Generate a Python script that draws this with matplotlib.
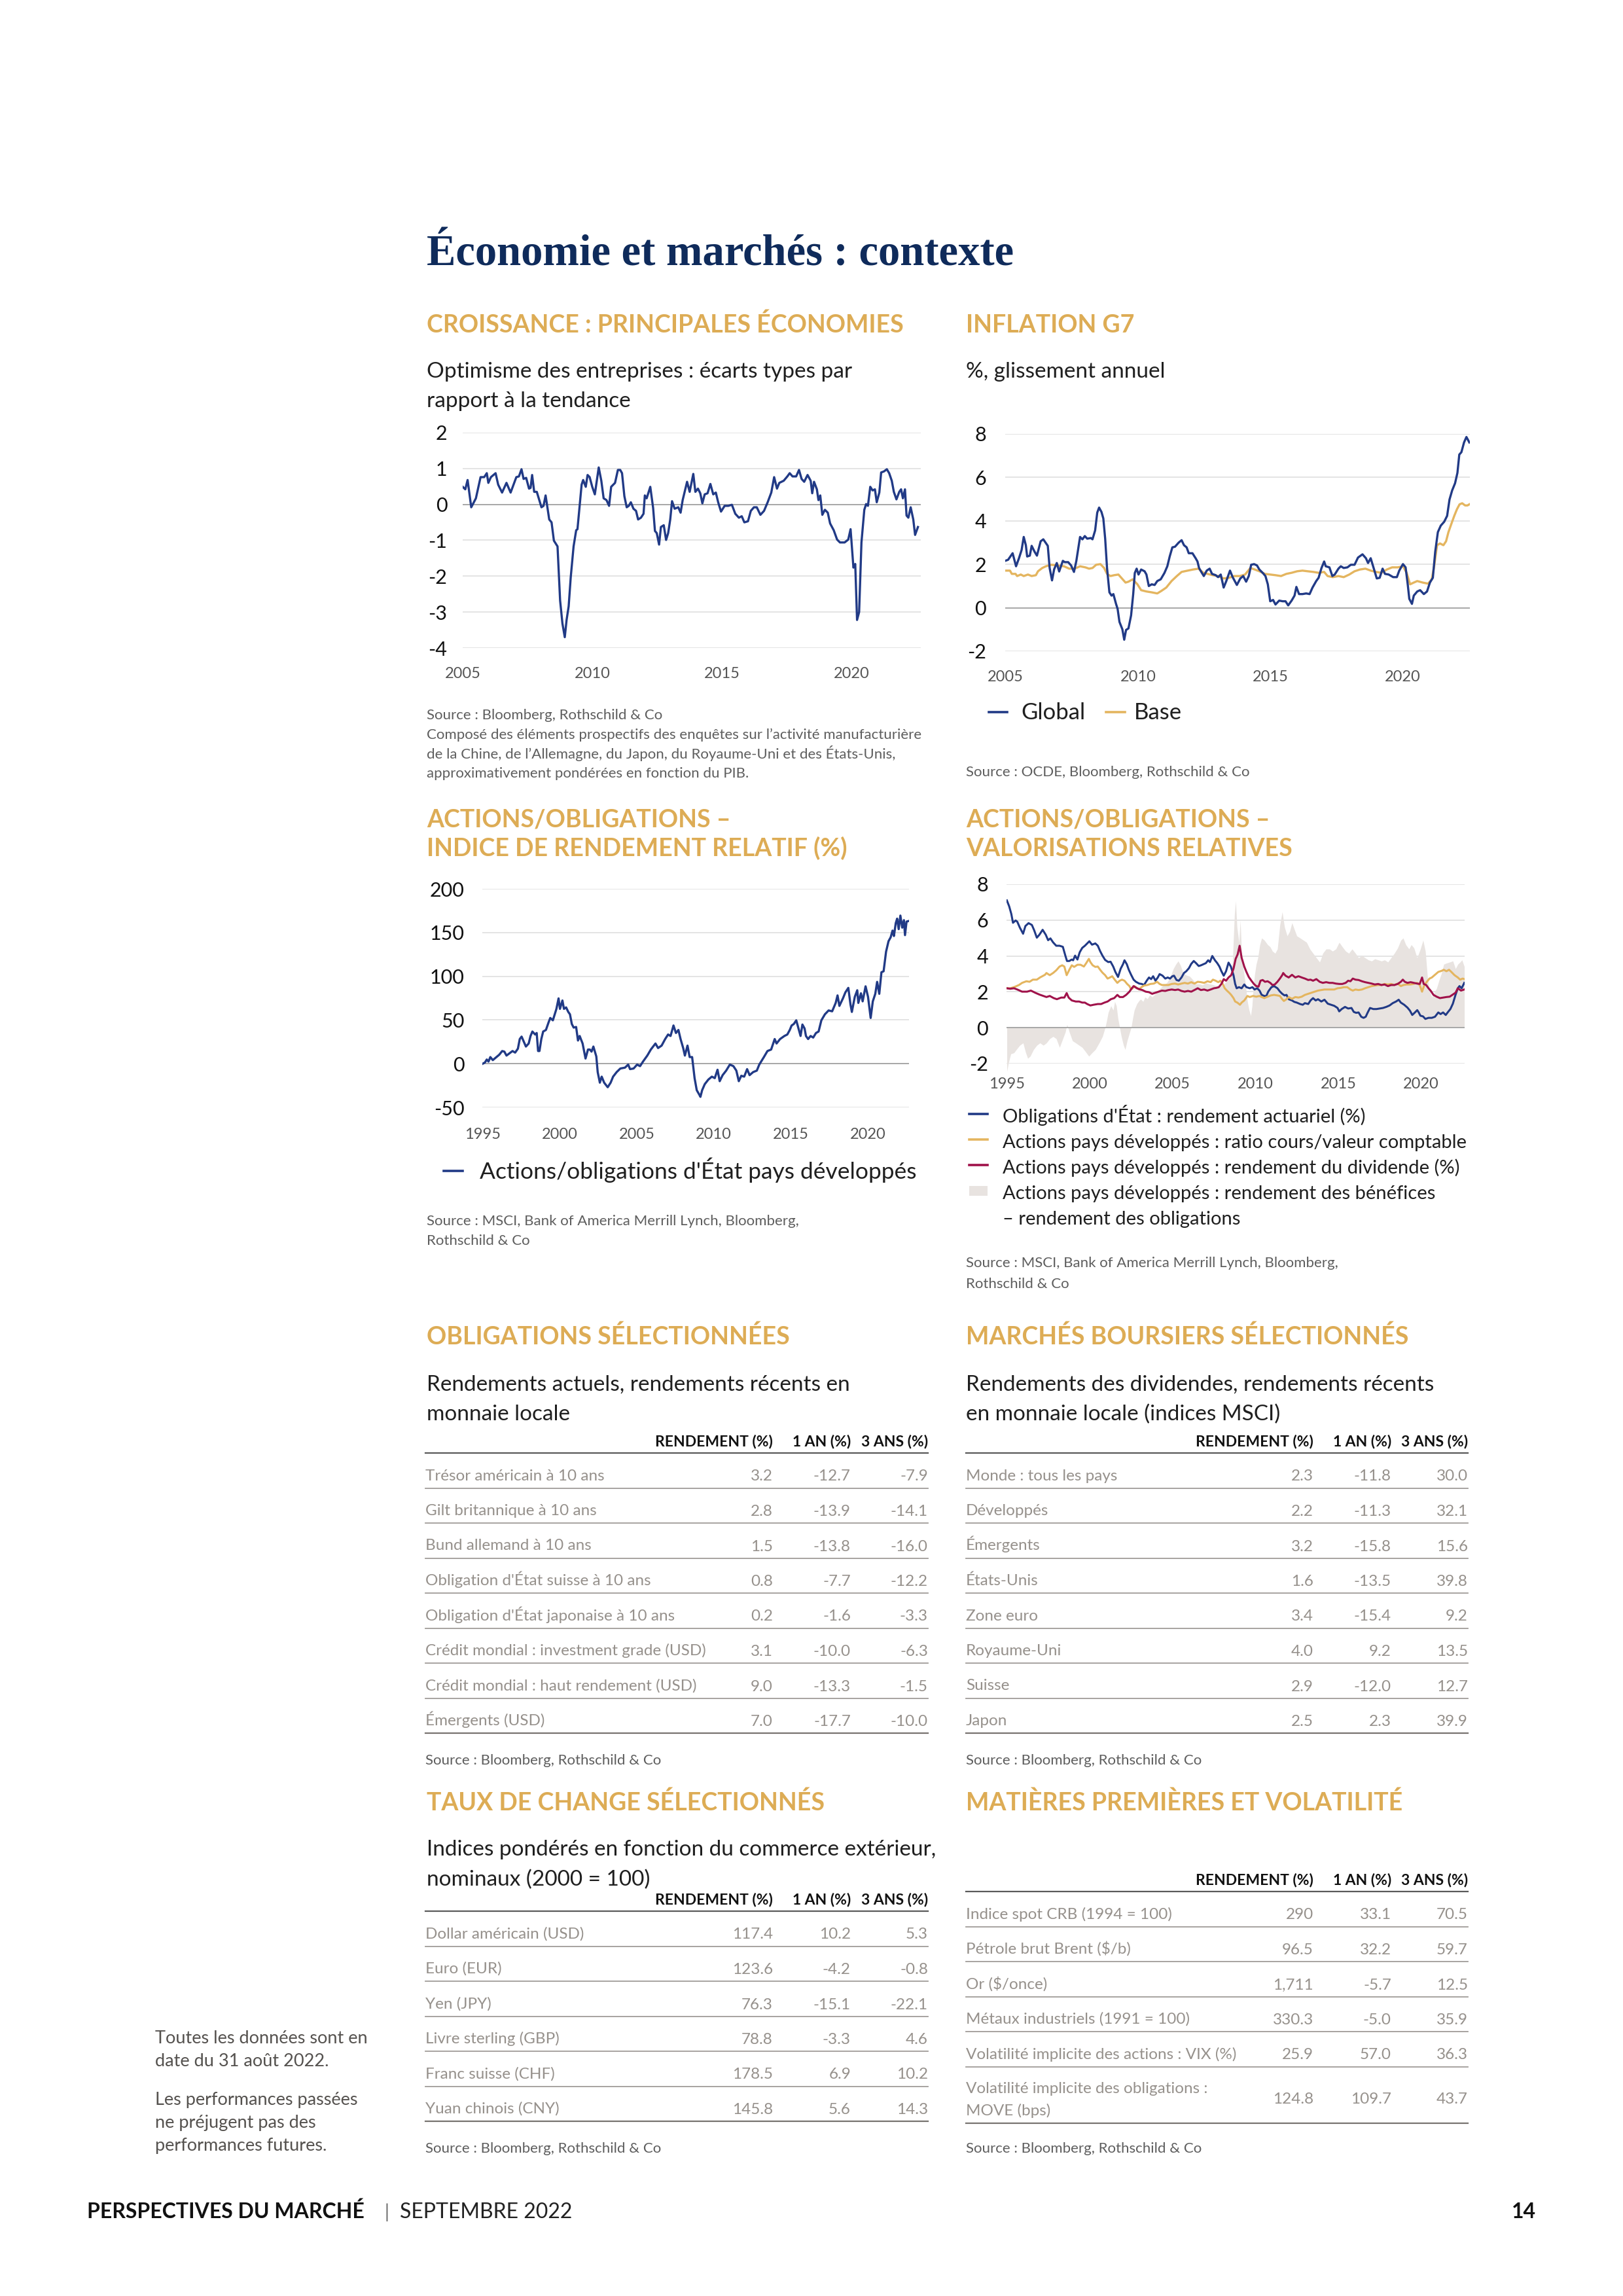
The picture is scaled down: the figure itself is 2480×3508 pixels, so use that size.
import matplotlib
matplotlib.use("Agg")
import matplotlib.pyplot as plt
from matplotlib.patches import Rectangle

plt.rcParams["font.family"] = ["Lato", "DejaVu Sans"]
plt.rcParams["axes.unicode_minus"] = False

# ---------------------------------------------------------------- chart data
# Croissance : optimisme des entreprises (ecarts types)
growth_t = [
    2005.00, 2005.10, 2005.19, 2005.33, 2005.51, 2005.69, 2005.83, 2005.93, 2005.99, 2006.09,
    2006.27, 2006.37, 2006.52, 2006.69, 2006.85, 2007.07, 2007.17, 2007.27, 2007.35, 2007.45,
    2007.56, 2007.62, 2007.68, 2007.76, 2007.86, 2008.04, 2008.12, 2008.20, 2008.34, 2008.43,
    2008.52, 2008.66, 2008.76, 2008.85, 2008.94, 2009.01, 2009.09, 2009.17, 2009.28, 2009.38,
    2009.43, 2009.52, 2009.59, 2009.65, 2009.75, 2009.82, 2009.90, 2010.00, 2010.10, 2010.25,
    2010.35, 2010.44, 2010.55, 2010.65, 2010.73, 2010.88, 2010.99, 2011.08, 2011.15, 2011.24,
    2011.33, 2011.41, 2011.49, 2011.59, 2011.69, 2011.77, 2011.88, 2011.98, 2012.03, 2012.10,
    2012.24, 2012.35, 2012.42, 2012.49, 2012.58, 2012.65, 2012.76, 2012.85, 2012.93, 2013.01,
    2013.08, 2013.18, 2013.32, 2013.41, 2013.49, 2013.66, 2013.76, 2013.90, 2013.98, 2014.08,
    2014.17, 2014.25, 2014.34, 2014.45, 2014.56, 2014.67, 2014.77, 2014.86, 2014.97, 2015.11,
    2015.25, 2015.39, 2015.52, 2015.66, 2015.77, 2015.87, 2016.01, 2016.12, 2016.24, 2016.35,
    2016.49, 2016.63, 2016.77, 2016.91, 2017.02, 2017.13, 2017.22, 2017.39, 2017.53, 2017.62,
    2017.73, 2017.87, 2017.98, 2018.08, 2018.18, 2018.31, 2018.43, 2018.49, 2018.56, 2018.67,
    2018.73, 2018.80, 2018.88, 2018.98, 2019.09, 2019.18, 2019.32, 2019.45, 2019.56, 2019.74,
    2019.88, 2019.97, 2020.08, 2020.15, 2020.22, 2020.30, 2020.39, 2020.50, 2020.57, 2020.64,
    2020.73, 2020.82, 2020.91, 2020.98, 2021.08, 2021.15, 2021.26, 2021.37, 2021.46, 2021.56,
    2021.64, 2021.74, 2021.85, 2021.92, 2021.99, 2022.07, 2022.13, 2022.20, 2022.29, 2022.39,
    2022.46, 2022.57,
]
growth_v = [
    0.49, 0.42, 0.68, -0.08, 0.17, 0.76, 0.76, 0.87, 0.60, 0.76,
    0.87, 0.55, 0.33, 0.60, 0.33, 0.76, 0.78, 0.98, 0.71, 0.74,
    0.44, 0.46, 0.82, 0.35, 0.35, -0.08, -0.04, 0.25, -0.42, -0.50,
    -1.01, -1.17, -2.68, -3.32, -3.70, -3.22, -2.84, -2.03, -1.17, -0.72,
    -0.69, 0.01, 0.55, 0.68, 0.49, 0.82, 0.76, 0.49, 0.28, 1.03,
    0.66, 0.17, 0.12, -0.04, 0.49, 0.60, 0.96, 0.96, 0.87, 0.23,
    -0.08, -0.04, 0.06, -0.12, -0.18, -0.42, -0.37, -0.26, 0.25, 0.17,
    0.49, -0.10, -0.74, -0.80, -1.12, -0.63, -0.58, -0.99, -0.80, -0.42,
    0.09, -0.12, -0.08, -0.23, 0.12, 0.63, 0.35, 0.85, 0.35, 0.44,
    0.31, 0.03, 0.28, 0.31, 0.57, 0.28, 0.33, 0.06, -0.20, -0.04,
    -0.04, -0.01, -0.26, -0.37, -0.33, -0.50, -0.47, -0.18, -0.08, -0.08,
    -0.29, -0.18, 0.06, 0.33, 0.76, 0.44, 0.60, 0.66, 0.78, 0.87,
    0.78, 0.78, 0.96, 0.71, 0.63, 0.82, 0.66, 0.31, 0.63, 0.42,
    0.12, 0.25, -0.29, -0.15, -0.23, -0.53, -0.72, -0.98, -1.06, -1.06,
    -0.98, -0.69, -1.76, -1.66, -3.22, -3.00, -1.06, -0.15, 0.01, -0.04,
    0.49, 0.39, 0.42, 0.06, 0.33, 0.89, 0.92, 0.98, 0.87, 0.66,
    0.35, 0.14, 0.35, 0.42, 0.17, 0.42, -0.31, -0.37, -0.08, -0.42,
    -0.85, -0.63,
]

# Inflation G7 (%, glissement annuel)
infl_global_t = [
    2004.98, 2005.09, 2005.26, 2005.39, 2005.50, 2005.60, 2005.68, 2005.76, 2005.81, 2005.91,
    2005.98, 2006.09, 2006.18, 2006.32, 2006.42, 2006.59, 2006.66, 2006.75, 2006.83, 2006.93,
    2007.02, 2007.16, 2007.23, 2007.36, 2007.47, 2007.58, 2007.67, 2007.81, 2007.90, 2007.99,
    2008.08, 2008.22, 2008.28, 2008.38, 2008.46, 2008.53, 2008.62, 2008.69, 2008.76, 2008.83,
    2008.92, 2009.00, 2009.07, 2009.17, 2009.23, 2009.30, 2009.41, 2009.48, 2009.55, 2009.64,
    2009.74, 2009.82, 2009.88, 2009.95, 2010.02, 2010.12, 2010.25, 2010.32, 2010.41, 2010.52,
    2010.63, 2010.73, 2010.86, 2011.00, 2011.11, 2011.20, 2011.30, 2011.40, 2011.54, 2011.65,
    2011.74, 2011.84, 2011.92, 2012.06, 2012.18, 2012.25, 2012.31, 2012.38, 2012.49, 2012.60,
    2012.71, 2012.80, 2012.94, 2013.03, 2013.13, 2013.24, 2013.34, 2013.48, 2013.58, 2013.74,
    2013.87, 2013.98, 2014.09, 2014.19, 2014.28, 2014.39, 2014.50, 2014.59, 2014.73, 2014.82,
    2014.91, 2015.00, 2015.11, 2015.20, 2015.34, 2015.47, 2015.58, 2015.68, 2015.81, 2015.92,
    2015.99, 2016.09, 2016.22, 2016.36, 2016.49, 2016.60, 2016.74, 2016.83, 2016.94, 2017.04,
    2017.10, 2017.24, 2017.35, 2017.44, 2017.58, 2017.67, 2017.78, 2017.92, 2018.05, 2018.19,
    2018.32, 2018.49, 2018.62, 2018.70, 2018.80, 2018.93, 2019.03, 2019.14, 2019.25, 2019.34,
    2019.48, 2019.65, 2019.79, 2019.88, 2020.02, 2020.12, 2020.20, 2020.26, 2020.36, 2020.43,
    2020.56, 2020.67, 2020.81, 2020.93, 2021.04, 2021.15, 2021.24, 2021.34, 2021.45, 2021.58,
    2021.69, 2021.78, 2021.88, 2021.99, 2022.08, 2022.15, 2022.23, 2022.33, 2022.42, 2022.53,
]
infl_global_v = [
    2.16, 2.21, 2.51, 1.91, 2.28, 2.66, 3.26, 2.88, 2.36, 2.40,
    2.85, 2.58, 2.40, 3.06, 3.15, 2.85, 1.83, 1.26, 1.77, 2.06,
    1.67, 2.16, 2.10, 2.10, 1.95, 1.65, 2.16, 3.26, 3.15, 3.30,
    3.18, 3.21, 3.15, 3.56, 4.38, 4.61, 4.41, 4.11, 3.18, 1.83,
    0.71, 0.56, 0.63, 0.18, -0.05, -0.65, -0.99, -1.47, -1.02, -0.95,
    -0.35, 0.63, 1.60, 1.80, 1.53, 1.76, 1.68, 1.53, 1.00, 1.08,
    1.05, 1.23, 1.31, 1.60, 1.91, 2.36, 2.78, 2.81, 3.00, 3.11,
    2.88, 2.78, 2.51, 2.51, 2.28, 2.13, 1.83, 1.68, 1.46, 1.71,
    1.80, 1.56, 1.50, 1.41, 1.53, 0.93, 1.23, 1.71, 1.41, 1.05,
    1.35, 1.46, 1.20, 1.46, 1.98, 2.01, 1.95, 1.76, 1.59, 1.46,
    1.08, 0.30, 0.36, 0.15, 0.33, 0.30, 0.30, 0.11, 0.33, 0.56,
    0.96, 0.63, 0.63, 0.66, 0.63, 0.93, 1.23, 1.38, 1.83, 2.13,
    1.91, 1.86, 1.46, 1.53, 1.80, 1.91, 1.83, 1.86, 1.98, 1.98,
    2.31, 2.46, 2.28, 2.06, 2.28, 1.76, 1.35, 1.38, 1.80, 1.56,
    1.53, 1.41, 1.41, 1.71, 2.01, 1.86, 1.08, 0.41, 0.18, 0.56,
    0.75, 0.81, 0.63, 0.75, 1.16, 1.38, 2.58, 3.48, 3.78, 3.96,
    4.23, 4.98, 5.40, 5.73, 6.21, 7.05, 7.16, 7.61, 7.86, 7.61,
]
infl_base_t = [
    2004.98, 2005.16, 2005.23, 2005.37, 2005.43, 2005.57, 2005.68, 2005.84, 2005.98, 2006.14,
    2006.22, 2006.38, 2006.52, 2006.72, 2006.93, 2007.20, 2007.40, 2007.61, 2007.81, 2008.01,
    2008.15, 2008.28, 2008.42, 2008.58, 2008.72, 2008.83, 2008.96, 2009.10, 2009.26, 2009.37,
    2009.53, 2009.64, 2009.80, 2009.98, 2010.12, 2010.32, 2010.52, 2010.73, 2010.89, 2011.07,
    2011.27, 2011.47, 2011.65, 2011.88, 2012.08, 2012.29, 2012.46, 2012.63, 2012.83, 2013.03,
    2013.24, 2013.44, 2013.64, 2013.85, 2014.05, 2014.25, 2014.42, 2014.59, 2014.80, 2015.00,
    2015.20, 2015.41, 2015.61, 2015.81, 2016.02, 2016.22, 2016.42, 2016.63, 2016.83, 2017.04,
    2017.17, 2017.37, 2017.58, 2017.78, 2017.99, 2018.19, 2018.39, 2018.60, 2018.80, 2019.00,
    2019.21, 2019.41, 2019.61, 2019.82, 2020.02, 2020.16, 2020.29, 2020.43, 2020.56, 2020.77,
    2020.97, 2021.11, 2021.20, 2021.31, 2021.42, 2021.55, 2021.65, 2021.74, 2021.85, 2021.96,
    2022.06, 2022.16, 2022.26, 2022.37, 2022.46, 2022.53,
]
infl_base_v = [
    1.71, 1.71, 1.56, 1.56, 1.46, 1.53, 1.46, 1.53, 1.46, 1.50,
    1.68, 1.83, 1.91, 1.98, 1.95, 1.91, 1.80, 1.80, 1.91, 1.86,
    1.80, 1.83, 1.98, 2.01, 1.83, 1.56, 1.46, 1.50, 1.53, 1.38,
    1.16, 1.20, 1.31, 1.08, 0.81, 0.75, 0.71, 0.66, 0.78, 0.93,
    1.23, 1.46, 1.65, 1.71, 1.76, 1.80, 1.62, 1.56, 1.50, 1.46,
    1.35, 1.38, 1.46, 1.46, 1.53, 1.83, 1.76, 1.68, 1.56, 1.53,
    1.50, 1.46, 1.56, 1.61, 1.68, 1.71, 1.68, 1.65, 1.61, 1.65,
    1.46, 1.41, 1.46, 1.41, 1.53, 1.68, 1.76, 1.80, 1.71, 1.65,
    1.61, 1.76, 1.86, 1.86, 1.91, 1.61, 1.08, 1.16, 1.23, 1.16,
    1.11, 1.31, 1.91, 2.88, 2.96, 2.88, 3.06, 3.48, 3.86, 4.23,
    4.53, 4.76, 4.81, 4.71, 4.71, 4.76,
]

# Actions/obligations : indice de rendement relatif (%)
relative_t = [
    1995.00, 1995.14, 1995.26, 1995.37, 1995.49, 1995.65, 1995.84, 1996.07, 1996.26, 1996.40,
    1996.54, 1996.72, 1996.93, 1997.10, 1997.28, 1997.40, 1997.52, 1997.63, 1997.80, 1997.98,
    1998.10, 1998.22, 1998.40, 1998.50, 1998.59, 1998.68, 1998.80, 1998.92, 1999.10, 1999.27,
    1999.38, 1999.55, 1999.66, 1999.78, 1999.92, 2000.01, 2000.17, 2000.27, 2000.41, 2000.55,
    2000.66, 2000.78, 2000.90, 2001.06, 2001.18, 2001.29, 2001.48, 2001.67, 2001.83, 2001.95,
    2002.06, 2002.18, 2002.37, 2002.46, 2002.60, 2002.72, 2002.88, 2003.11, 2003.30, 2003.46,
    2003.69, 2003.93, 2004.23, 2004.44, 2004.56, 2004.79, 2005.02, 2005.21, 2005.40, 2005.68,
    2005.91, 2006.21, 2006.38, 2006.61, 2006.84, 2007.03, 2007.19, 2007.38, 2007.54, 2007.70,
    2007.84, 2008.01, 2008.12, 2008.29, 2008.43, 2008.59, 2008.75, 2008.89, 2009.06, 2009.13,
    2009.24, 2009.41, 2009.64, 2009.87, 2010.06, 2010.24, 2010.38, 2010.57, 2010.80, 2011.04,
    2011.27, 2011.46, 2011.62, 2011.78, 2011.97, 2012.16, 2012.32, 2012.55, 2012.79, 2012.95,
    2013.25, 2013.48, 2013.72, 2013.95, 2014.07, 2014.30, 2014.58, 2014.77, 2014.93, 2015.05,
    2015.19, 2015.35, 2015.47, 2015.63, 2015.75, 2015.89, 2015.98, 2016.12, 2016.28, 2016.45,
    2016.63, 2016.80, 2016.98, 2017.21, 2017.45, 2017.68, 2017.91, 2018.03, 2018.15, 2018.38,
    2018.54, 2018.73, 2018.87, 2018.96, 2019.15, 2019.31, 2019.38, 2019.55, 2019.66, 2019.85,
    2020.01, 2020.18, 2020.32, 2020.48, 2020.60, 2020.74, 2020.88, 2021.02, 2021.18, 2021.34,
    2021.48, 2021.60, 2021.69, 2021.81, 2021.90, 2022.00, 2022.11, 2022.23, 2022.34, 2022.41,
    2022.51, 2022.65,
]
relative_v = [
    0.0, 1.4, 4.8, 2.4, 7.6, 4.1, 6.9, 10.3, 14.5, 13.8,
    9.3, 11.7, 14.5, 12.7, 17.2, 28.2, 31.0, 26.5, 19.6, 23.1,
    31.7, 36.8, 33.4, 35.1, 14.5, 14.5, 28.2, 36.8, 38.6, 47.2,
    52.3, 49.6, 55.8, 62.7, 74.7, 62.7, 72.3, 62.7, 64.4, 59.2,
    56.5, 45.4, 41.3, 42.0, 26.5, 31.7, 23.1, 5.9, 16.2, 16.2,
    13.8, 19.6, 8.3, -9.6, -21.7, -14.8, -21.7, -26.9, -21.7, -14.8,
    -9.6, -5.5, -4.5, -1.0, -6.2, -5.5, -1.0, -2.8, 2.4, 9.3,
    16.2, 23.1, 17.9, 20.7, 28.2, 33.4, 31.7, 43.7, 35.1, 38.6,
    28.2, 17.9, 9.3, 20.7, 7.6, 7.6, -16.5, -30.3, -35.5, -37.9,
    -30.3, -23.4, -18.2, -14.8, -16.5, -6.9, -20.0, -13.1, -7.9, -1.0,
    -2.8, -7.9, -20.0, -13.8, -14.8, -6.2, -13.1, -9.6, -7.9, -1.0,
    7.6, 14.5, 16.2, 28.2, 23.1, 28.2, 31.7, 33.4, 38.6, 43.7,
    45.4, 49.6, 42.0, 31.7, 44.8, 40.3, 31.7, 28.2, 31.7, 29.9,
    35.1, 36.8, 49.6, 56.5, 60.9, 59.9, 69.5, 78.1, 66.1, 74.7,
    81.6, 86.7, 67.8, 59.2, 76.4, 84.0, 69.5, 80.5, 71.3, 88.5,
    76.4, 52.3, 71.3, 79.9, 93.6, 79.9, 104.6, 105.7, 128.1, 140.1,
    144.6, 152.2, 146.0, 160.8, 165.9, 153.9, 169.4, 155.6, 164.2, 147.0,
    162.5, 163.2,
]

# Actions/obligations : valorisations relatives
bond_yield_t = [
    1995.00, 1995.14, 1995.27, 1995.37, 1995.53, 1995.63, 1995.78, 1995.98, 1996.12, 1996.31,
    1996.51, 1996.65, 1996.81, 1996.96, 1997.16, 1997.35, 1997.49, 1997.63, 1997.79, 1997.98,
    1998.18, 1998.38, 1998.53, 1998.63, 1998.77, 1998.91, 1999.00, 1999.12, 1999.26, 1999.40,
    1999.55, 1999.71, 1999.85, 1999.98, 2000.14, 2000.34, 2000.49, 2000.63, 2000.77, 2000.93,
    2001.12, 2001.26, 2001.42, 2001.55, 2001.71, 2001.87, 2002.01, 2002.10, 2002.24, 2002.36,
    2002.50, 2002.65, 2002.79, 2002.99, 2003.14, 2003.28, 2003.44, 2003.58, 2003.71, 2003.83,
    2003.97, 2004.11, 2004.22, 2004.40, 2004.56, 2004.71, 2004.85, 2004.99, 2005.09, 2005.24,
    2005.38, 2005.54, 2005.69, 2005.83, 2005.99, 2006.13, 2006.28, 2006.42, 2006.58, 2006.72,
    2006.87, 2007.01, 2007.15, 2007.26, 2007.40, 2007.56, 2007.70, 2007.83, 2007.95, 2008.09,
    2008.23, 2008.38, 2008.52, 2008.68, 2008.78, 2008.87, 2009.01, 2009.17, 2009.33, 2009.46,
    2009.66, 2009.82, 2009.95, 2010.11, 2010.25, 2010.38, 2010.54, 2010.66, 2010.78, 2010.97,
    2011.13, 2011.33, 2011.48, 2011.62, 2011.76, 2011.88, 2012.01, 2012.21, 2012.35, 2012.50,
    2012.70, 2012.86, 2012.99, 2013.19, 2013.33, 2013.48, 2013.64, 2013.78, 2013.98, 2014.17,
    2014.37, 2014.56, 2014.76, 2014.96, 2015.06, 2015.21, 2015.41, 2015.60, 2015.80, 2015.94,
    2016.08, 2016.23, 2016.39, 2016.53, 2016.66, 2016.78, 2016.92, 2017.12, 2017.31, 2017.51,
    2017.70, 2017.90, 2018.10, 2018.29, 2018.49, 2018.65, 2018.78, 2018.98, 2019.18, 2019.33,
    2019.47, 2019.63, 2019.77, 2019.86, 2019.96, 2020.12, 2020.26, 2020.45, 2020.65, 2020.84,
    2021.04, 2021.18, 2021.33, 2021.49, 2021.63, 2021.77, 2021.92, 2022.08, 2022.22, 2022.32,
    2022.45, 2022.61,
]
bond_yield_v = [
    7.10, 6.77, 6.34, 5.85, 5.98, 5.91, 5.59, 5.24, 5.67, 5.83,
    5.73, 5.43, 5.02, 5.18, 5.46, 5.18, 4.88, 4.98, 4.76, 4.57,
    4.57, 4.51, 4.02, 3.72, 3.72, 3.80, 3.76, 4.02, 3.80, 4.21,
    4.45, 4.57, 4.70, 4.82, 4.63, 4.70, 4.57, 4.27, 4.02, 3.78,
    3.66, 3.68, 3.41, 3.11, 2.83, 3.29, 3.54, 3.76, 3.54, 3.23,
    2.95, 2.68, 2.56, 2.46, 2.44, 2.38, 2.62, 2.80, 2.71, 2.87,
    2.62, 2.80, 2.99, 2.90, 2.74, 2.80, 2.74, 2.87, 2.90, 2.66,
    2.62, 2.80, 3.05, 3.15, 3.32, 3.56, 3.72, 3.60, 3.44, 3.48,
    3.54, 3.60, 3.76, 3.66, 4.00, 3.76, 3.60, 3.41, 3.15, 2.90,
    3.15, 3.63, 3.41, 2.93, 2.44, 2.20, 2.26, 2.20, 2.41, 2.26,
    2.20, 2.26, 2.13, 2.20, 2.07, 1.83, 1.77, 1.77, 2.02, 2.26,
    2.32, 2.20, 2.02, 1.89, 1.80, 1.83, 1.59, 1.52, 1.44, 1.40,
    1.32, 1.28, 1.37, 1.32, 1.52, 1.65, 1.52, 1.59, 1.46, 1.56,
    1.34, 1.28, 1.22, 1.10, 0.91, 1.04, 1.16, 1.07, 1.10, 0.88,
    0.83, 0.85, 0.61, 0.55, 0.61, 0.85, 1.10, 1.04, 1.04, 1.07,
    1.10, 1.16, 1.24, 1.37, 1.46, 1.56, 1.40, 1.28, 1.12, 0.95,
    0.71, 0.85, 0.98, 0.85, 0.67, 0.63, 0.49, 0.55, 0.55, 0.61,
    0.85, 0.76, 0.85, 0.71, 0.88, 1.04, 1.34, 1.83, 2.20, 2.32,
    2.20, 2.50,
]
price_book_t = [
    1995.00, 1995.20, 1995.43, 1995.73, 1995.92, 1996.18, 1996.37, 1996.57, 1996.81, 1997.00,
    1997.30, 1997.39, 1997.59, 1997.79, 1997.98, 1998.18, 1998.34, 1998.47, 1998.61, 1998.77,
    1998.92, 1999.06, 1999.26, 1999.45, 1999.65, 1999.79, 1999.95, 2000.04, 2000.18, 2000.34,
    2000.49, 2000.63, 2000.77, 2000.93, 2001.08, 2001.22, 2001.36, 2001.51, 2001.67, 2001.81,
    2001.95, 2002.10, 2002.26, 2002.40, 2002.50, 2002.59, 2002.69, 2002.85, 2002.99, 2003.12,
    2003.28, 2003.48, 2003.67, 2003.87, 2004.07, 2004.22, 2004.36, 2004.56, 2004.75, 2004.95,
    2005.15, 2005.34, 2005.54, 2005.73, 2005.93, 2006.13, 2006.32, 2006.52, 2006.71, 2006.91,
    2007.11, 2007.30, 2007.44, 2007.60, 2007.76, 2007.89, 2008.03, 2008.15, 2008.28, 2008.42,
    2008.54, 2008.68, 2008.78, 2008.91, 2009.07, 2009.17, 2009.33, 2009.52, 2009.66, 2009.86,
    2010.05, 2010.25, 2010.38, 2010.54, 2010.74, 2010.93, 2011.13, 2011.33, 2011.48, 2011.62,
    2011.72, 2011.88, 2012.01, 2012.21, 2012.41, 2012.60, 2012.80, 2012.99, 2013.19, 2013.39,
    2013.58, 2013.78, 2013.98, 2014.17, 2014.37, 2014.56, 2014.76, 2014.96, 2015.15, 2015.35,
    2015.55, 2015.74, 2015.88, 2016.04, 2016.23, 2016.43, 2016.62, 2016.82, 2017.02, 2017.21,
    2017.41, 2017.61, 2017.80, 2018.00, 2018.19, 2018.39, 2018.59, 2018.78, 2018.94, 2019.14,
    2019.33, 2019.53, 2019.76, 2019.92, 2020.06, 2020.20, 2020.35, 2020.51, 2020.65, 2020.84,
    2021.04, 2021.24, 2021.37, 2021.53, 2021.69, 2021.83, 2022.02, 2022.22, 2022.36, 2022.51,
    2022.61,
]
price_book_v = [
    2.20, 2.20, 2.26, 2.38, 2.50, 2.59, 2.56, 2.68, 2.68, 2.80,
    2.95, 3.05, 2.93, 3.05, 3.20, 3.41, 3.48, 3.41, 2.93, 3.23,
    3.48, 3.39, 3.51, 3.51, 3.41, 3.60, 3.84, 3.66, 3.48, 3.39,
    3.41, 3.23, 3.07, 2.93, 2.74, 2.80, 2.87, 2.68, 2.50, 2.62,
    2.68, 2.62, 2.44, 2.32, 2.13, 2.20, 2.32, 2.22, 2.13, 2.26,
    2.35, 2.38, 2.44, 2.46, 2.56, 2.44, 2.38, 2.38, 2.38, 2.44,
    2.46, 2.41, 2.46, 2.50, 2.46, 2.54, 2.46, 2.56, 2.54, 2.50,
    2.59, 2.54, 2.68, 2.62, 2.54, 2.62, 2.44, 2.20, 2.07, 1.95,
    1.83, 1.65, 1.46, 1.40, 1.28, 1.40, 1.52, 1.77, 1.71, 1.77,
    1.73, 1.77, 1.71, 1.65, 1.73, 1.80, 1.83, 1.80, 1.77, 1.59,
    1.49, 1.59, 1.71, 1.61, 1.71, 1.68, 1.73, 1.83, 1.89, 1.95,
    2.01, 2.07, 2.10, 2.13, 2.13, 2.13, 2.13, 2.20, 2.22, 2.26,
    2.26, 2.13, 2.07, 2.13, 2.10, 2.13, 2.20, 2.26, 2.32, 2.35,
    2.38, 2.38, 2.44, 2.41, 2.44, 2.38, 2.46, 2.32, 2.38, 2.41,
    2.41, 2.44, 2.50, 2.38, 2.01, 2.38, 2.56, 2.74, 2.80, 2.95,
    3.11, 3.17, 3.23, 3.15, 3.23, 3.11, 2.93, 2.80, 2.68, 2.74,
    2.71,
]
dividend_t = [
    1995.00, 1995.20, 1995.43, 1995.63, 1995.92, 1996.22, 1996.45, 1996.71, 1996.96, 1997.20,
    1997.39, 1997.59, 1997.83, 1998.02, 1998.28, 1998.47, 1998.61, 1998.73, 1998.92, 1999.16,
    1999.36, 1999.55, 1999.71, 1999.85, 2000.04, 2000.24, 2000.49, 2000.69, 2000.89, 2001.08,
    2001.28, 2001.48, 2001.67, 2001.81, 2002.01, 2002.20, 2002.40, 2002.54, 2002.65, 2002.85,
    2003.05, 2003.18, 2003.38, 2003.58, 2003.77, 2003.97, 2004.16, 2004.36, 2004.56, 2004.75,
    2004.95, 2005.15, 2005.34, 2005.54, 2005.73, 2005.93, 2006.13, 2006.32, 2006.52, 2006.71,
    2006.91, 2007.11, 2007.30, 2007.50, 2007.64, 2007.79, 2007.95, 2008.09, 2008.23, 2008.38,
    2008.54, 2008.68, 2008.81, 2008.93, 2009.05, 2009.17, 2009.33, 2009.46, 2009.60, 2009.76,
    2009.91, 2010.05, 2010.19, 2010.31, 2010.44, 2010.58, 2010.74, 2010.90, 2011.03, 2011.17,
    2011.33, 2011.48, 2011.62, 2011.68, 2011.82, 2012.01, 2012.21, 2012.41, 2012.60, 2012.80,
    2012.99, 2013.19, 2013.33, 2013.48, 2013.68, 2013.88, 2014.07, 2014.27, 2014.47, 2014.66,
    2014.86, 2015.06, 2015.25, 2015.45, 2015.60, 2015.74, 2015.88, 2016.04, 2016.23, 2016.43,
    2016.62, 2016.82, 2017.02, 2017.21, 2017.41, 2017.61, 2017.80, 2018.00, 2018.19, 2018.39,
    2018.59, 2018.78, 2018.90, 2019.02, 2019.18, 2019.37, 2019.57, 2019.76, 2019.92, 2020.06,
    2020.16, 2020.31, 2020.45, 2020.59, 2020.75, 2020.94, 2021.14, 2021.33, 2021.53, 2021.73,
    2021.92, 2022.08, 2022.22, 2022.41, 2022.61,
]
dividend_v = [
    2.20, 2.17, 2.20, 2.13, 2.01, 2.01, 2.07, 1.95, 1.85, 1.77,
    1.71, 1.77, 1.65, 1.59, 1.68, 1.68, 1.93, 1.68, 1.52, 1.46,
    1.46, 1.40, 1.40, 1.32, 1.24, 1.28, 1.32, 1.32, 1.40, 1.46,
    1.59, 1.65, 1.83, 1.71, 1.71, 1.83, 2.01, 2.20, 2.32, 2.20,
    2.13, 2.10, 2.01, 1.98, 1.89, 1.95, 2.01, 2.07, 2.05, 2.10,
    2.13, 2.10, 2.13, 2.05, 2.01, 2.05, 2.01, 2.10, 2.20, 2.10,
    2.13, 2.07, 2.13, 2.20, 2.22, 2.26, 2.44, 2.71, 2.62, 2.80,
    2.93, 3.29, 3.84, 4.09, 4.57, 3.90, 3.41, 3.11, 2.83, 2.62,
    2.44, 2.32, 2.29, 2.62, 2.66, 2.56, 2.59, 2.50, 2.38, 2.41,
    2.56, 2.74, 2.93, 3.05, 2.90, 2.80, 2.95, 2.80, 2.87, 2.80,
    2.74, 2.66, 2.68, 2.62, 2.71, 2.56, 2.50, 2.54, 2.50, 2.50,
    2.46, 2.44, 2.44, 2.50, 2.62, 2.59, 2.74, 2.68, 2.66, 2.59,
    2.54, 2.50, 2.46, 2.41, 2.44, 2.38, 2.41, 2.32, 2.38, 2.38,
    2.44, 2.56, 2.68, 2.56, 2.50, 2.54, 2.50, 2.46, 2.44, 2.80,
    2.44, 2.38, 2.20, 2.05, 1.83, 1.73, 1.65, 1.68, 1.71, 1.73,
    1.85, 1.95, 2.20, 2.07, 2.13,
]
spread_t = [
    1995.00, 1995.10, 1995.24, 1995.43, 1995.59, 1995.78, 1995.98, 1996.12, 1996.26, 1996.41,
    1996.61, 1996.81, 1997.00, 1997.20, 1997.39, 1997.59, 1997.79, 1997.98, 1998.18, 1998.38,
    1998.53, 1998.63, 1998.77, 1998.96, 1999.16, 1999.36, 1999.55, 1999.75, 1999.95, 2000.14,
    2000.34, 2000.57, 2000.77, 2000.93, 2001.02, 2001.12, 2001.28, 2001.42, 2001.51, 2001.61,
    2001.71, 2001.81, 2001.91, 2002.04, 2002.14, 2002.26, 2002.40, 2002.50, 2002.59, 2002.69,
    2002.85, 2002.99, 2003.08, 2003.22, 2003.34, 2003.48, 2003.63, 2003.77, 2003.97, 2004.11,
    2004.26, 2004.46, 2004.65, 2004.85, 2005.05, 2005.20, 2005.34, 2005.48, 2005.64, 2005.83,
    2006.03, 2006.22, 2006.42, 2006.62, 2006.81, 2007.01, 2007.21, 2007.40, 2007.60, 2007.89,
    2008.09, 2008.28, 2008.48, 2008.62, 2008.74, 2008.81, 2008.89, 2009.01, 2009.09, 2009.17,
    2009.27, 2009.40, 2009.52, 2009.62, 2009.72, 2009.80, 2009.87, 2009.95, 2010.05, 2010.15,
    2010.27, 2010.38, 2010.54, 2010.74, 2010.89, 2011.03, 2011.19, 2011.33, 2011.48, 2011.62,
    2011.76, 2011.92, 2012.07, 2012.21, 2012.35, 2012.50, 2012.70, 2012.90, 2013.09, 2013.29,
    2013.48, 2013.68, 2013.88, 2013.98, 2014.07, 2014.27, 2014.47, 2014.66, 2014.86, 2015.06,
    2015.25, 2015.45, 2015.64, 2015.84, 2016.04, 2016.23, 2016.43, 2016.62, 2016.82, 2017.02,
    2017.21, 2017.41, 2017.61, 2017.80, 2018.00, 2018.19, 2018.39, 2018.59, 2018.78, 2018.92,
    2019.08, 2019.27, 2019.41, 2019.57, 2019.76, 2019.96, 2020.12, 2020.26, 2020.39, 2020.51,
    2020.65, 2020.79, 2020.94, 2021.10, 2021.24, 2021.37, 2021.53, 2021.73, 2021.92, 2022.08,
    2022.22, 2022.36, 2022.47, 2022.61,
]
spread_v = [
    -2.44, -1.95, -1.46, -1.40, -1.20, -0.98, -0.85, -1.34, -1.71, -1.59,
    -1.22, -0.98, -0.85, -0.98, -0.85, -0.61, -0.49, -0.61, -1.10, -0.61,
    -0.24, 0.18, -0.24, -0.73, -0.85, -0.98, -1.10, -1.34, -1.59, -1.40,
    -1.22, -0.85, -0.49, 0.00, 0.37, 0.85, 1.22, 0.98, 1.46, 1.22,
    0.49, 0.00, -0.49, -0.98, -1.22, -0.73, -0.30, 0.00, 0.49, 0.98,
    1.34, 1.52, 1.59, 1.46, 1.71, 1.61, 1.83, 1.71, 1.89, 2.07,
    2.20, 2.38, 2.50, 2.80, 3.29, 3.54, 3.72, 3.48, 3.05, 2.93,
    2.87, 2.68, 2.44, 2.44, 2.38, 2.50, 2.44, 2.41, 2.35, 2.32,
    2.41, 2.62, 2.80, 3.66, 6.34, 7.07, 5.61, 4.76, 5.98, 4.15,
    3.29, 2.44, 1.46, 0.98, 0.67, 1.22, 2.20, 2.93, 3.54, 3.90,
    4.63, 5.00, 4.88, 4.63, 4.51, 4.27, 4.15, 4.39, 5.73, 6.46,
    5.61, 5.12, 5.37, 5.85, 5.49, 5.12, 5.00, 4.88, 4.76, 4.39,
    4.15, 3.90, 3.66, 3.90, 4.15, 4.39, 4.39, 4.27, 4.39, 4.76,
    4.51, 4.27, 4.15, 4.39, 4.15, 3.90, 4.02, 3.90, 3.78, 3.72,
    3.84, 3.78, 3.72, 3.78, 3.66, 3.90, 4.15, 4.45, 4.88, 5.00,
    4.63, 4.39, 4.63, 4.45, 3.90, 4.39, 4.88, 4.27, 2.80, 2.07,
    1.71, 1.95, 2.20, 2.68, 3.05, 3.54, 3.60, 3.66, 3.72, 3.29,
    3.54, 3.66, 3.78, 3.41,
]

# ---------------------------------------------------------------- table data
table_cols = ["RENDEMENT (%)", "1 AN (%)", "3 ANS (%)"]

bond_names = [
    "Trésor américain à 10 ans", "Gilt britannique à 10 ans", "Bund allemand à 10 ans",
    "Obligation d'État suisse à 10 ans", "Obligation d'État japonaise à 10 ans",
    "Crédit mondial : investment grade (USD)", "Crédit mondial : haut rendement (USD)",
    "Émergents (USD)",
]
bond_yield = [3.2, 2.8, 1.5, 0.8, 0.2, 3.1, 9.0, 7.0]
bond_1y = [-12.7, -13.9, -13.8, -7.7, -1.6, -10.0, -13.3, -17.7]
bond_3y = [-7.9, -14.1, -16.0, -12.2, -3.3, -6.3, -1.5, -10.0]

equity_names = [
    "Monde : tous les pays", "Développés", "Émergents", "États-Unis",
    "Zone euro", "Royaume-Uni", "Suisse", "Japon",
]
equity_yield = [2.3, 2.2, 3.2, 1.6, 3.4, 4.0, 2.9, 2.5]
equity_1y = [-11.8, -11.3, -15.8, -13.5, -15.4, 9.2, -12.0, 2.3]
equity_3y = [30.0, 32.1, 15.6, 39.8, 9.2, 13.5, 12.7, 39.9]

fx_names = [
    "Dollar américain (USD)", "Euro (EUR)", "Yen (JPY)",
    "Livre sterling (GBP)", "Franc suisse (CHF)", "Yuan chinois (CNY)",
]
fx_level = [117.4, 123.6, 76.3, 78.8, 178.5, 145.8]
fx_1y = [10.2, -4.2, -15.1, -3.3, 6.9, 5.6]
fx_3y = [5.3, -0.8, -22.1, 4.6, 10.2, 14.3]

commodity_names = [
    "Indice spot CRB (1994 = 100)", "Pétrole brut Brent (\\$/b)", "Or (\\$/once)",
    "Métaux industriels (1991 = 100)", "Volatilité implicite des actions : VIX (%)",
    "Volatilité implicite des obligations :\nMOVE (bps)",
]
commodity_level = [290, 96.5, 1711, 330.3, 25.9, 124.8]
commodity_1y = [33.1, 32.2, -5.7, -5.0, 57.0, 109.7]
commodity_3y = [70.5, 59.7, 12.5, 35.9, 36.3, 43.7]

# ---------------------------------------------------------------- styling
W, H = 2480, 3508
NAVY = "#213a86"
GOLD = "#e4b55f"
CRIMSON = "#a0124a"
SPREAD_FILL = "#e8e3e0"
HEAD_GOLD = "#ddac55"
TITLE_BLUE = "#0f2b5b"
SOURCE_GREY = "#5e5e5e"
ROW_GREY = "#96918c"
SOURCE_TXT = "Source : Bloomberg, Rothschild & Co"

fig = plt.figure(figsize=(W / 100, H / 100), dpi=100)
page = fig.add_axes([0, 0, 1, 1])
page.set_xlim(0, W)
page.set_ylim(H, 0)
page.axis("off")


def put(x, y, s, size, color="#1f1f1f", weight="normal", ha="left", family=None):
    kw = {"family": family} if family else {}
    page.text(x, y, s, fontsize=size, color=color, fontweight=weight,
              ha=ha, va="baseline", **kw)


def make_chart(box, xlim, ylim, xticks, yticks, ypad, xpad):
    left, top, right, bottom = box
    ax = fig.add_axes([left / W, 1 - bottom / H, (right - left) / W, (bottom - top) / H])
    ax.set_facecolor("none")
    ax.set_xlim(*xlim)
    ax.set_ylim(*ylim)
    ax.set_xticks(xticks, labels=[str(t) for t in xticks])
    ax.set_yticks(yticks, labels=[str(t) for t in yticks])
    for sp in ax.spines.values():
        sp.set_visible(False)
    ax.tick_params(length=0)
    ax.tick_params(axis="y", pad=ypad, labelsize=22, labelcolor="#111111")
    ax.tick_params(axis="x", pad=xpad, labelsize=17, labelcolor="#555555")
    ax.grid(axis="y", color="#dddddd", lw=1.1)
    ax.set_axisbelow(True)
    ax.axhline(0, color="#a3a3a3", lw=1.3, zorder=1.2)
    return ax


def fmt(v):
    if isinstance(v, int):
        return f"{v:,}"
    return f"{v:.1f}"


def draw_table(x0, x1, cols, header_line, names, c1, c2, c3):
    for label, cx in zip(table_cols, cols):
        put(cx, header_line - 11, label, 16.5, "#111111", "bold", ha="right")
    page.plot([x0, x1], [header_line, header_line], color="#5a5a5a", lw=1.6)
    y = header_line
    for i, (name, a, b, c) in enumerate(zip(names, c1, c2, c3)):
        lines = name.split("\n")
        y += 53.5 if len(lines) == 1 else 86
        for j, ln in enumerate(lines):
            put(x0, y - 12 - 33 * (len(lines) - 1 - j), ln, 17.5, ROW_GREY)
        num_y = y - 11 if len(lines) == 1 else y - 29
        for val, cx in zip((a, b, c), cols):
            put(cx, num_y, fmt(val), 17.5, ROW_GREY, ha="right")
        last = i == len(names) - 1
        page.plot([x0, x1], [y, y], color="#77736f" if last else "#a09c98",
                  lw=1.6 if last else 1.3)


# ---------------------------------------------------------------- page title
put(652, 406, "Économie et marchés : contexte", 48, TITLE_BLUE, "bold",
    family="Liberation Serif")

# ---------------------------------------------------------------- chart 1
put(652, 508, "CROISSANCE : PRINCIPALES ÉCONOMIES", 27, HEAD_GOLD, "bold")
put(652, 577, "Optimisme des entreprises : écarts types par", 24)
put(652, 622, "rapport à la tendance", 24)
ax1 = make_chart((707, 661, 1407, 990), (2005.0, 2022.68), (-4, 2),
                 [2005, 2010, 2015, 2020], list(range(-4, 3)), 17, 21)
ax1.plot(growth_t, growth_v, color=NAVY, lw=2.4, solid_joinstyle="round")
source1 = [
    SOURCE_TXT,
    "Composé des éléments prospectifs des enquêtes sur l’activité manufacturière",
    "de la Chine, de l’Allemagne, du Japon, du Royaume-Uni et des États-Unis,",
    "approximativement pondérées en fonction du PIB.",
]
for k, line in enumerate(source1):
    put(652, 1099 + 29.8 * k, line, 16, SOURCE_GREY)

# ---------------------------------------------------------------- chart 2
put(1476, 508, "INFLATION G7", 27, HEAD_GOLD, "bold")
put(1476, 577, "%, glissement annuel", 24)
ax2 = make_chart((1536, 663, 2246, 995), (2004.98, 2022.55), (-2, 8),
                 [2005, 2010, 2015, 2020], [-2, 0, 2, 4, 6, 8], 21, 21)
ax2.plot(infl_base_t, infl_base_v, color=GOLD, lw=2.4, solid_joinstyle="round")
ax2.plot(infl_global_t, infl_global_v, color=NAVY, lw=2.4, solid_joinstyle="round")
page.plot([1511, 1539], [1088, 1088], color=NAVY, lw=2.6)
put(1560, 1099, "Global", 25)
page.plot([1690, 1719], [1088, 1088], color=GOLD, lw=2.6)
put(1733, 1099, "Base", 25)
put(1476, 1186, "Source : OCDE, Bloomberg, Rothschild & Co", 16, SOURCE_GREY)

# ---------------------------------------------------------------- chart 3
put(652, 1263, "ACTIONS/OBLIGATIONS –", 27, HEAD_GOLD, "bold")
put(652, 1308, "INDICE DE RENDEMENT RELATIF (%)", 27, HEAD_GOLD, "bold")
ax3 = make_chart((737, 1358, 1389, 1692), (1994.97, 2022.67), (-50, 200),
                 [1995, 2000, 2005, 2010, 2015, 2020], [-50, 0, 50, 100, 150, 200], 19.5, 22)
ax3.plot(relative_t, relative_v, color=NAVY, lw=2.4, solid_joinstyle="round")
page.plot([678, 707], [1789, 1789], color=NAVY, lw=2.6)
put(733, 1801, "Actions/obligations d'État pays développés", 25.5)
put(652, 1872, "Source : MSCI, Bank of America Merrill Lynch, Bloomberg,", 16, SOURCE_GREY)
put(652, 1902, "Rothschild & Co", 16, SOURCE_GREY)

# ---------------------------------------------------------------- chart 4
put(1476, 1263, "ACTIONS/OBLIGATIONS –", 27, HEAD_GOLD, "bold")
put(1476, 1308, "VALORISATIONS RELATIVES", 27, HEAD_GOLD, "bold")
ax4 = make_chart((1538, 1351, 2238, 1625), (1994.98, 2022.63), (-2, 8),
                 [1995, 2000, 2005, 2010, 2015, 2020], [-2, 0, 2, 4, 6, 8], 20, 15)
fill = ax4.fill_between(spread_t, spread_v, 0, color=SPREAD_FILL, lw=0, zorder=1)
fill.set_clip_on(False)
ax4.plot(bond_yield_t, bond_yield_v, color=NAVY, lw=2.2, solid_joinstyle="round")
ax4.plot(price_book_t, price_book_v, color=GOLD, lw=2.2, solid_joinstyle="round")
ax4.plot(dividend_t, dividend_v, color=CRIMSON, lw=2.2, solid_joinstyle="round")
legend4 = [
    (NAVY, "Obligations d'État : rendement actuariel (%)"),
    (GOLD, "Actions pays développés : ratio cours/valeur comptable"),
    (CRIMSON, "Actions pays développés : rendement du dividende (%)"),
]
for k, (col, label) in enumerate(legend4):
    page.plot([1481, 1509], [1702 + 39 * k] * 2, color=col, lw=2.6)
    put(1532, 1715 + 39 * k, label, 21)
page.add_patch(Rectangle((1481, 1812), 28, 15, color=SPREAD_FILL, lw=0))
put(1532, 1832, "Actions pays développés : rendement des bénéfices", 21)
put(1532, 1871, "– rendement des obligations", 21)
put(1476, 1936, "Source : MSCI, Bank of America Merrill Lynch, Bloomberg,", 16, SOURCE_GREY)
put(1476, 1968, "Rothschild & Co", 16, SOURCE_GREY)

# ---------------------------------------------------------------- tables
put(652, 2054, "OBLIGATIONS SÉLECTIONNÉES", 27, HEAD_GOLD, "bold")
put(652, 2125, "Rendements actuels, rendements récents en", 24)
put(652, 2170, "monnaie locale", 24)
draw_table(650, 1418, [1181, 1300, 1418], 2220, bond_names, bond_yield, bond_1y, bond_3y)
put(650, 2696, SOURCE_TXT, 16, SOURCE_GREY)

put(1476, 2054, "MARCHÉS BOURSIERS SÉLECTIONNÉS", 27, HEAD_GOLD, "bold")
put(1476, 2125, "Rendements des dividendes, rendements récents", 24)
put(1476, 2170, "en monnaie locale (indices MSCI)", 24)
draw_table(1476, 2243, [2007, 2126, 2243], 2220, equity_names, equity_yield, equity_1y, equity_3y)
put(1476, 2696, SOURCE_TXT, 16, SOURCE_GREY)

put(652, 2766, "TAUX DE CHANGE SÉLECTIONNÉS", 27, HEAD_GOLD, "bold")
put(652, 2835, "Indices pondérés en fonction du commerce extérieur,", 24)
put(652, 2881, "nominaux (2000 = 100)", 24)
draw_table(650, 1418, [1181, 1300, 1418], 2920, fx_names, fx_level, fx_1y, fx_3y)
put(650, 3289, SOURCE_TXT, 16, SOURCE_GREY)

put(1476, 2766, "MATIÈRES PREMIÈRES ET VOLATILITÉ", 27, HEAD_GOLD, "bold")
draw_table(1476, 2243, [2007, 2126, 2243], 2890, commodity_names,
           commodity_level, commodity_1y, commodity_3y)
put(1476, 3289, SOURCE_TXT, 16, SOURCE_GREY)

# ---------------------------------------------------------------- notes and footer
notes = [
    (3122, "Toutes les données sont en"),
    (3157, "date du 31 août 2022."),
    (3216, "Les performances passées"),
    (3251, "ne préjugent pas des"),
    (3286, "performances futures."),
]
for y, line in notes:
    put(237, y, line, 19.5, "#55524f")

put(133, 3389, "PERSPECTIVES DU MARCHÉ", 23, "#111111", "bold")
put(588, 3389, "|", 20, "#666666")
put(611, 3389, "SEPTEMBRE 2022", 23, "#222222")
put(2347, 3389, "14", 23, "#111111", "bold", ha="right")

fig.savefig("out.png", dpi=100, facecolor="white")
